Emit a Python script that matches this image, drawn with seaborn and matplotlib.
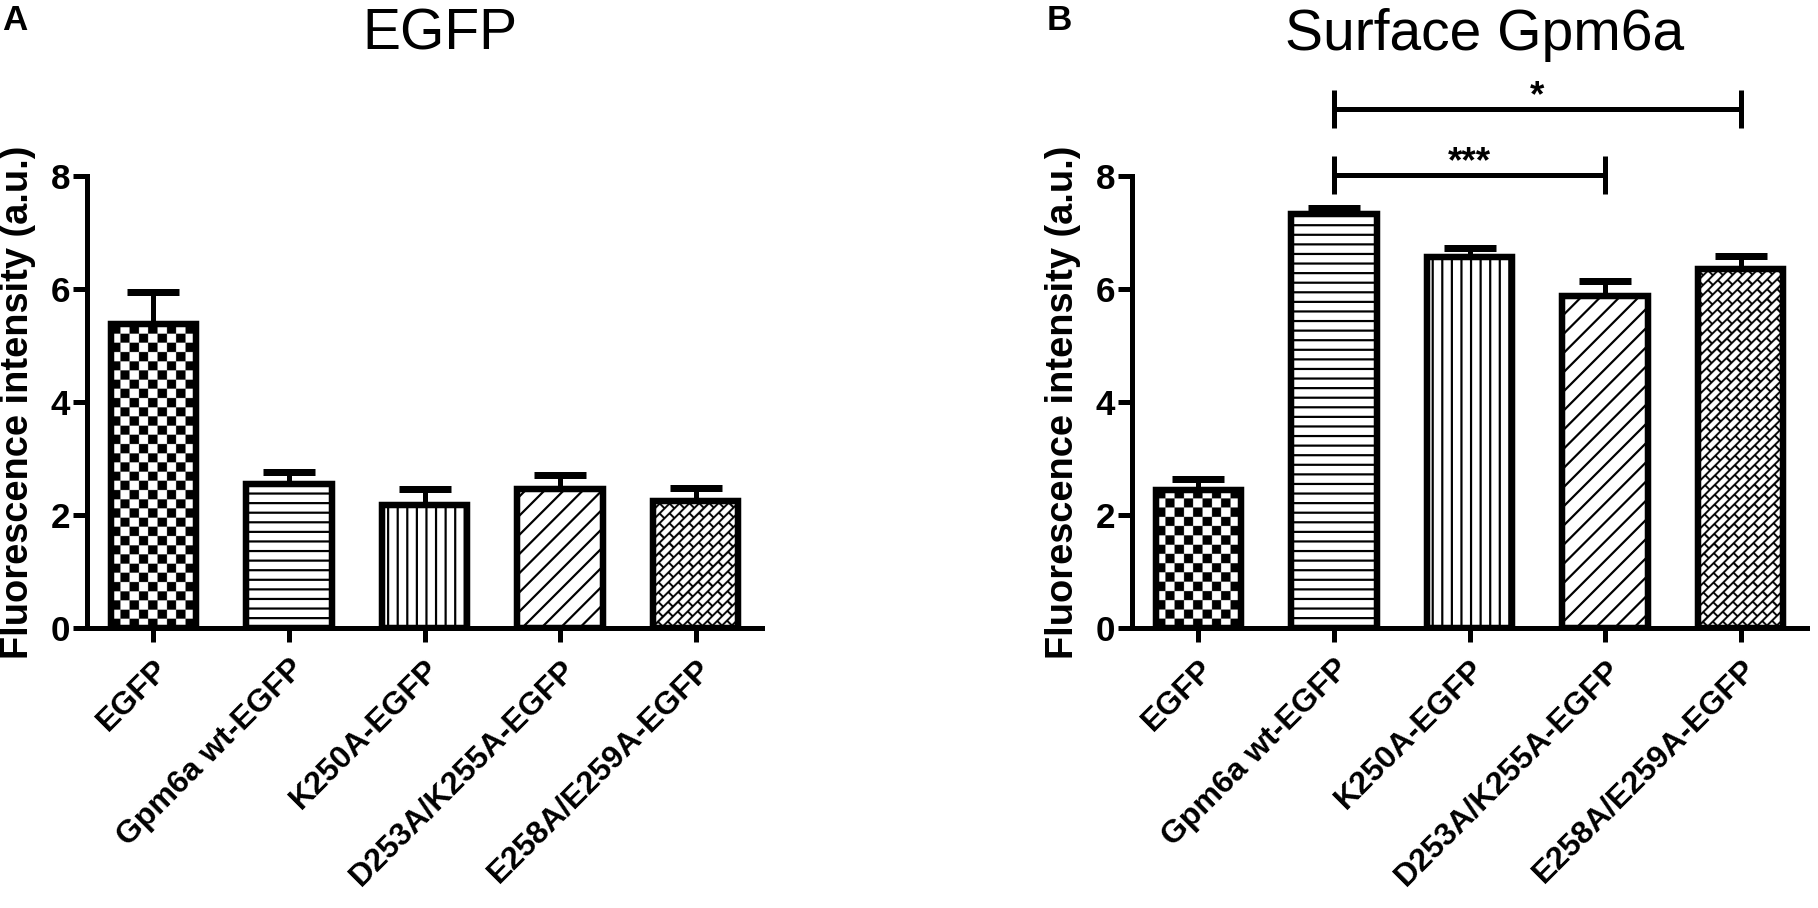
import numpy as np
import pandas as pd
import matplotlib
matplotlib.use("Agg")
import matplotlib.pyplot as plt
import seaborn as sns

# ---------------- data ----------------
categories = ["EGFP", "Gpm6a wt-EGFP", "K250A-EGFP", "D253A/K255A-EGFP", "E258A/E259A-EGFP"]
egfp_mean = [5.38, 2.55, 2.17, 2.46, 2.25]
egfp_sem = [0.56, 0.21, 0.29, 0.24, 0.22]
surface_mean = [2.45, 7.33, 6.56, 5.87, 6.35]
surface_sem = [0.18, 0.11, 0.17, 0.27, 0.24]
panel_titles = ["EGFP", "Surface Gpm6a"]
panel_letters = ["A", "B"]
y_label = "Fluorescence intensity (a.u.)"
y_ticks = [0, 2, 4, 6, 8]
# significance: (start index, end index, bracket level, label)
sig_pairs = [(1, 3, 8.02, "***"), (1, 4, 9.19, "*")]

# ---------------- style ----------------
DPI = 115
W_PX, H_PX = 1818, 908
def P(px):
    return px * 72.0 / DPI

sns.set_theme(style="ticks")
plt.rcParams["font.family"] = ["Liberation Sans", "DejaVu Sans"]
plt.rcParams["hatch.linewidth"] = P(2.2)
plt.rcParams["hatch.color"] = "black"

fig = plt.figure(figsize=(W_PX / DPI, H_PX / DPI), dpi=DPI)
fig.patch.set_facecolor("white")

ax_w = 675 / W_PX
ax_b = (H_PX - 628) / H_PX
ax_h = 452 / H_PX
ax_lefts = [87 / W_PX, 1132 / W_PX]

patterns = ["checker", "--", "||", "//", "brick"]


def add_texture(ax, rect, kind):
    x0, y0 = rect.get_x(), rect.get_y()
    w, h = rect.get_width(), rect.get_height()
    p0 = ax.transData.transform((x0, y0))
    p1 = ax.transData.transform((x0 + w, y0 + h))
    Wp = max(int(round(p1[0] - p0[0])), 2)
    Hp = max(int(round(p1[1] - p0[1])), 2)
    ss = 3
    xs = (np.arange(Wp * ss) + 0.5) / ss
    ys = (np.arange(Hp * ss) + 0.5) / ss
    X, Y = np.meshgrid(xs, ys)
    if kind == "checker":
        c = 9.2
        black = ((np.floor(X / c) + np.floor(Y / c)) % 2) == 0
    else:
        s2 = np.sqrt(2)
        a = (Y - X) / s2
        b = (X + Y) / s2
        s, L, lw = 6.8, 14.0, 1.9
        row = np.floor(a / s)
        line = np.mod(a, s) < lw
        cross = np.mod(b + (row % 2) * L / 2, L) < lw
        black = line | cross
    img = np.where(black, 0.0, 1.0)
    im = ax.imshow(img, cmap="gray", vmin=0, vmax=1, origin="lower",
                   extent=(x0, x0 + w, y0, y0 + h), aspect="auto",
                   interpolation="antialiased", zorder=rect.get_zorder() - 0.2)
    im.set_clip_path(rect)


datasets = [(egfp_mean, egfp_sem), (surface_mean, surface_sem)]

for i, (means, sems) in enumerate(datasets):
    ax = fig.add_axes([ax_lefts[i], ax_b, ax_w, ax_h])
    df = pd.DataFrame({"group": categories, "value": means})
    sns.barplot(data=df, x="group", y="value", order=categories, ax=ax,
                color="white", edgecolor="black", linewidth=P(6.5),
                width=0.63, errorbar=None, saturation=1, zorder=2)
    ax.set_xlim(-0.49, 4.49)
    ax.set_ylim(0, 8)
    xs = np.arange(len(categories))
    ax.errorbar(xs, means, yerr=[np.zeros(len(sems)), sems], fmt="none",
                ecolor="black", elinewidth=P(5), capsize=P(26), capthick=P(7),
                zorder=1)
    bars = [p for p in ax.patches][:len(categories)]
    for rect, pat in zip(bars, patterns):
        if pat in ("checker", "brick"):
            rect.set_facecolor("none")
            add_texture(ax, rect, pat)
        else:
            rect.set_facecolor("white")
            rect.set_hatch(pat)
    ax.set_xlim(-0.49, 4.49)
    ax.set_ylim(0, 8)

    sns.despine(ax=ax)
    for sp in ["left", "bottom"]:
        ax.spines[sp].set_linewidth(P(5))
        ax.spines[sp].set_color("black")
    ax.set_yticks(y_ticks)
    ax.set_yticklabels([str(t) for t in y_ticks], fontweight="bold", fontsize=P(35))
    ax.set_xticks(xs)
    ax.set_xticklabels(categories, rotation=45, ha="right", va="top",
                       rotation_mode="anchor", fontweight="bold", fontsize=P(32))
    ax.tick_params(axis="both", length=P(14), width=P(5), color="black",
                   labelcolor="black")
    ax.tick_params(axis="y", pad=P(3))
    ax.tick_params(axis="x", pad=P(12))
    ax.set_xlabel("")
    ax.set_ylabel(y_label, fontweight="bold", fontsize=P(38), color="black")
    ax.yaxis.set_label_coords(-0.075, 0.5)
    ax.set_facecolor("white")

    cx = ax_lefts[i] + (ax_w * W_PX / 2 + 15) / W_PX
    fig.text(cx, 1 - 50 / H_PX, panel_titles[i], ha="center", va="baseline",
             fontsize=P(57), color="black")
    fig.text(ax_lefts[i] - 85 / W_PX, 1 - 30 / H_PX, panel_letters[i],
             ha="left", va="baseline", fontsize=P(35), fontweight="bold", color="black")

    if i == 1:
        for (s, e, lvl, lab) in sig_pairs:
            ax.plot([s, e], [lvl, lvl], color="black", lw=P(5), clip_on=False,
                    solid_capstyle="butt")
            for xx in (s, e):
                ax.plot([xx, xx], [lvl - 0.34, lvl + 0.34], color="black",
                        lw=P(5), clip_on=False, solid_capstyle="butt")
            ax.text((s + e) / 2, lvl + 0.04, lab, ha="center", va="baseline",
                    fontsize=P(37), fontweight="bold", color="black", clip_on=False)

fig.savefig("out.png", dpi=DPI, facecolor="white")
